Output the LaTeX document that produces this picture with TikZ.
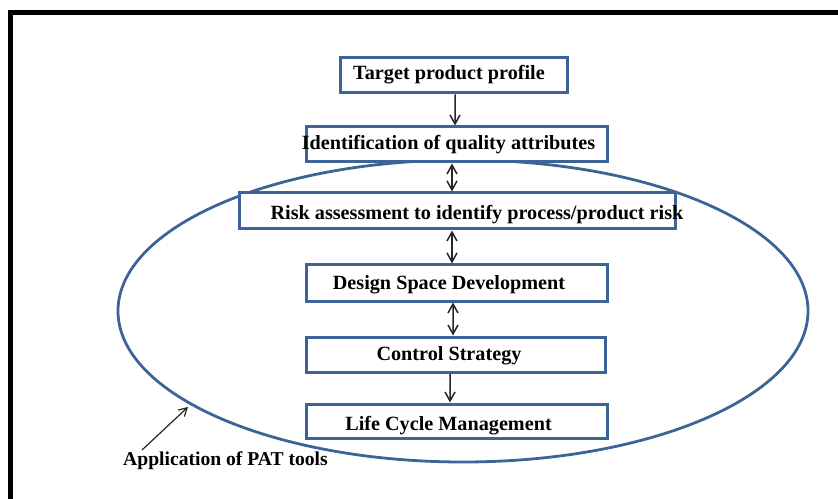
\documentclass[tikz,border=0pt]{standalone}
\usepackage{fontspec}
\setmainfont{Liberation Serif}
\usetikzlibrary{arrows.meta,shapes.geometric}
\definecolor{shapeblue}{HTML}{3C6496}
\tikzset{
  boxstyle/.style={draw=shapeblue, line width=3bp, fill=white, inner sep=0pt},
  lbl/.style={font=\bfseries\fontsize{20.2bp}{22bp}\selectfont, anchor=base, inner sep=0pt, text=black},
  conn/.style={draw=black!85, line width=1.5bp},
  tip/.tip={Straight Barb[length=9bp, width=10bp, line width=1.5bp]},
}
\begin{document}
\begin{tikzpicture}[x=1bp,y=-1bp]
\useasboundingbox (0,0) rectangle (838,499);
% frame
\draw[line width=5bp, black] (10.5,499) -- (10.5,12.5) -- (838,12.5);
% ellipse
\node[draw=shapeblue, line width=2.8bp, ellipse, minimum width=690bp, minimum height=302bp, inner sep=0pt] (ell) at (463,311) {};
% boxes
\node[boxstyle, minimum width=227bp, minimum height=35bp] (b1) at (453.5,75.5) {};
\node[boxstyle, minimum width=301bp, minimum height=35bp] (b2) at (456.5,144.5) {};
\node[boxstyle, minimum width=436bp, minimum height=36bp] (b3) at (457,211) {};
\node[boxstyle, minimum width=301bp, minimum height=36bp] (b4) at (456.5,283) {};
\node[boxstyle, minimum width=299bp, minimum height=35bp] (b5) at (455.5,354.5) {};
\node[boxstyle, minimum width=301bp, minimum height=34bp] (b6) at (456.5,421) {};
% texts
\node[lbl] (t1) at (449,80) {Target product profile};
\node[lbl] (t2) at (448.5,150) {Identification of quality attributes};
\node[lbl] (t3) at (477,220) {Risk assessment to identify process/product risk};
\node[lbl] (t4) at (449,290) {Design Space Development};
\node[lbl] (t5) at (449,360) {Control Strategy};
\node[lbl] (t6) at (448.5,430) {Life Cycle Management};
\node[lbl, font=\bfseries\fontsize{19.6bp}{22bp}\selectfont] (pat) at (225.5,465) {Application of PAT tools};
% connectors
\draw[conn, -{tip}] ([xshift=1.5bp]b1.south) -- ([xshift=-1.5bp]b2.north);
\draw[conn, {tip}-{tip}] ([xshift=-4.5bp]b2.south) -- ([xshift=-5bp]b3.north);
\draw[conn, {tip}-{tip}] ([xshift=-5bp]b3.south) -- ([xshift=-4.5bp]b4.north);
\draw[conn, {tip}-{tip}] ([xshift=-3.5bp]b4.south) -- ([xshift=-2.5bp]b5.north);
\draw[conn, -{tip}] ([xshift=-5.5bp]b5.south) -- ([xshift=-6.5bp]b6.north);
\coordinate (patstart) at (142,450);
\coordinate (patend) at (188,407);
\draw[conn, line width=1.2bp, -{Straight Barb[length=8bp, width=9bp, line width=1.2bp]}] (patstart) -- (patend);
\end{tikzpicture}
\end{document}
